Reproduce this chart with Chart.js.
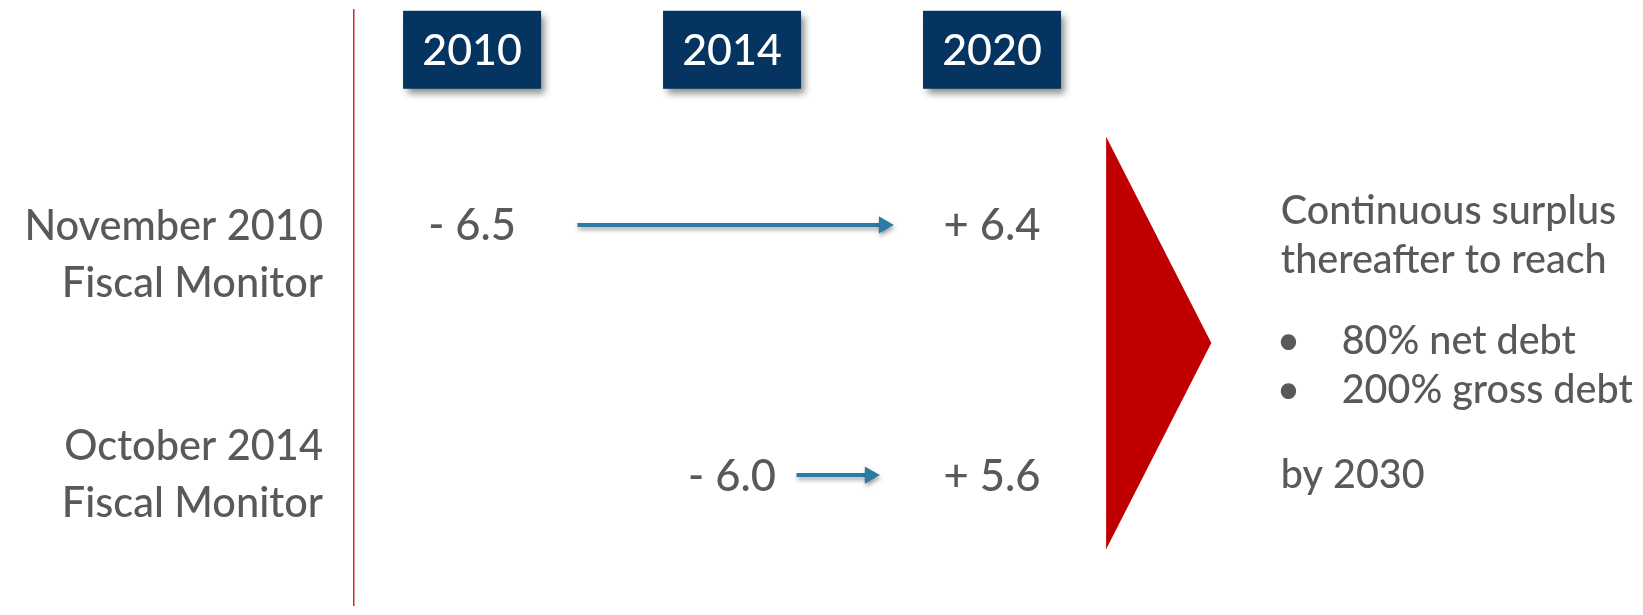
<!DOCTYPE html>
<html>
<head>
<meta charset="utf-8">
<script src="https://cdn.jsdelivr.net/npm/chart.js@4.4.1/dist/chart.umd.min.js"></script>
<style>
  html, body { margin: 0; padding: 0; background: #fff; }
  #wrap { width: 1643px; height: 615px; position: relative; }
</style>
</head>
<body>
<div id="wrap"><canvas id="chart"></canvas></div>
<script>
// column headers and the two Fiscal Monitor vintages (rows)
const years = ['2010', '2014', '2020'];
const reports = [['November 2010', 'Fiscal Monitor'], ['October 2014', 'Fiscal Monitor']];

// projected balance path for each vintage
const fromYear = ['2010', '2014'];
const toYear = ['2020', '2020'];
const fromBalance = [-6.5, -6.0];
const toBalance = [6.4, 5.6];

// note on the right of the chevron
const noteLines = ['Continuous surplus', 'thereafter to reach'];
const noteBullets = ['80% net debt', '200% gross debt'];
const noteYear = 'by 2030';

const TEXT = '#595959';
const NAVY = '#04345f';
const ARROW = '#2c7ba3';
const RED = '#c00000';
const FONT = 'Lato, "Open Sans", sans-serif';

// layout, in scale units: x = column index, y = row index
const headerRow = -0.7;
const arrowInset = [[0.405, 0.416], [0.248, 0.47]];
const chevron = { left: 2.439, tip: 2.8435, top: -0.352, bottom: 1.297 };
const noteX = 3.111;
const bulletX = 3.14;
const bulletTextX = 3.345;
const noteRows = [-0.059, 0.135];
const bulletRows = [0.461, 0.657];
const noteYearRow = 0.995;
const labelShift = [0, -0.53];
const labelLine = 57;

function fmt(v) {
    return (v < 0 ? '- ' : '+ ') + Math.abs(v).toFixed(1);
}

// draw text with its cap height centred on y
function capText(ctx, text, x, y, size, align, color) {
    ctx.font = `500 ${size}px ${FONT}`;
    ctx.fillStyle = color;
    ctx.textAlign = align;
    ctx.textBaseline = 'alphabetic';
    ctx.fillText(text, x, y + size * 0.358);
}

const arrowSets = reports.map((r, i) => ({
    label: r.join(' '),
    data: [
        { x: years.indexOf(fromYear[i]) + arrowInset[i][0], y: i },
        { x: years.indexOf(toYear[i]) - arrowInset[i][1], y: i },
    ],
    borderColor: ARROW,
    borderWidth: 4,
    pointRadius: [0, 10],
    pointStyle: 'triangle',
    pointRotation: 90,
    pointBackgroundColor: ARROW,
    pointBorderWidth: 0,
    shadow: true,
}));

const chevronSet = {
    label: 'target',
    data: [
        { x: chevron.left, y: chevron.top },
        { x: chevron.tip, y: (chevron.top + chevron.bottom) / 2 },
        { x: chevron.left, y: chevron.bottom },
    ],
    fill: 'shape',
    backgroundColor: RED,
    borderWidth: 0,
    pointRadius: 0,
};

const annotate = {
    id: 'annotate',
    beforeDatasetDraw(chart, args) {
        if (!chart.data.datasets[args.index].shadow) return;
        const ctx = chart.ctx;
        ctx.save();
        ctx.shadowColor = 'rgba(0,0,0,0.35)';
        ctx.shadowBlur = 4;
        ctx.shadowOffsetX = 1;
        ctx.shadowOffsetY = 3;
    },
    afterDatasetDraw(chart, args) {
        if (chart.data.datasets[args.index].shadow) chart.ctx.restore();
    },
    afterDatasetsDraw(chart) {
        const { ctx, chartArea, scales: { x, y } } = chart;

        // year header boxes
        years.forEach((yr, i) => {
            const cx = x.getPixelForValue(i);
            const cy = y.getPixelForValue(headerRow);
            ctx.save();
            ctx.shadowColor = 'rgba(0,0,0,0.45)';
            ctx.shadowBlur = 7;
            ctx.shadowOffsetX = 4;
            ctx.shadowOffsetY = 5;
            ctx.fillStyle = NAVY;
            ctx.fillRect(cx - 69, cy - 39, 138, 78);
            ctx.restore();
            capText(ctx, yr, cx, cy, 43, 'center', '#ffffff');
        });

        // row labels, right aligned against the red rule
        reports.forEach((lines, i) => {
            const base = y.getPixelForValue(i);
            lines.forEach((t, k) => {
                capText(ctx, t, chartArea.left - 31, base + (k + labelShift[i]) * labelLine, 41.5, 'right', TEXT);
            });
        });

        // start and end balances
        reports.forEach((_, i) => {
            const ry = y.getPixelForValue(i);
            capText(ctx, fmt(fromBalance[i]), x.getPixelForValue(years.indexOf(fromYear[i])), ry, 43.5, 'center', TEXT);
            capText(ctx, fmt(toBalance[i]), x.getPixelForValue(years.indexOf(toYear[i])), ry, 43.5, 'center', TEXT);
        });

        // note
        noteLines.forEach((t, k) => {
            capText(ctx, t, x.getPixelForValue(noteX), y.getPixelForValue(noteRows[k]), 39.5, 'left', TEXT);
        });
        noteBullets.forEach((t, k) => {
            const by = y.getPixelForValue(bulletRows[k]);
            capText(ctx, '\u2022', x.getPixelForValue(bulletX), by, 39.5, 'center', TEXT);
            capText(ctx, t, x.getPixelForValue(bulletTextX), by, 39.5, 'left', TEXT);
        });
        capText(ctx, noteYear, x.getPixelForValue(noteX), y.getPixelForValue(noteYearRow), 39.5, 'left', TEXT);
    },
};

new Chart(document.getElementById('chart'), {
    type: 'line',
    data: { datasets: [...arrowSets, chevronSet] },
    options: {
        animation: false,
        responsive: true,
        maintainAspectRatio: false,
        events: [],
        layout: { padding: { top: 6, right: 0, bottom: 0, left: 0 } },
        plugins: { legend: { display: false }, tooltip: { enabled: false } },
        scales: {
            x: { type: 'linear', min: -0.4542, max: 4.4656, display: false },
            y: {
                type: 'linear',
                reverse: true,
                min: -0.859,
                max: 1.5195,
                position: 'left',
                afterFit: s => { s.width = 354; },
                grid: { display: false, drawTicks: false },
                ticks: { display: false },
                border: { display: true, color: '#d42a2f', width: 1.5 },
            },
        },
    },
    plugins: [annotate],
});
</script>
</body>
</html>
